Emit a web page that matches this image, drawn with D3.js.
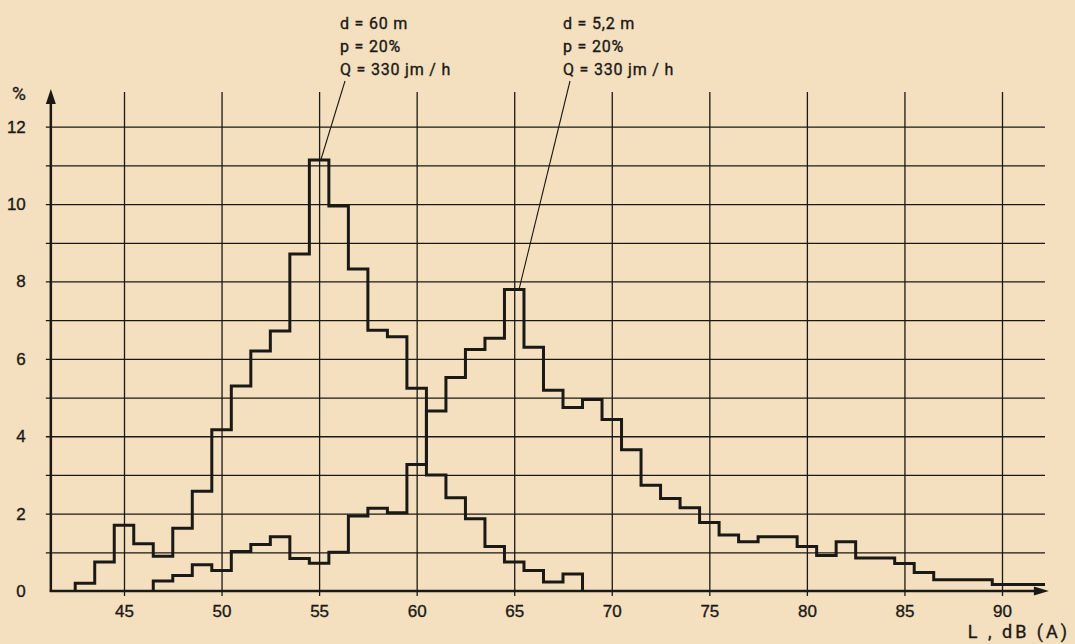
<!DOCTYPE html>
<html>
<head>
<meta charset="utf-8">
<script src="https://cdn.jsdelivr.net/npm/d3@7"></script>
<style>
  body { margin: 0; background: #f4e0bf; }
  svg { display: block; font-family: Roboto, "DejaVu Sans", sans-serif; }
  svg text { stroke: #1b1916; stroke-width: 0.35px; }
</style>
</head>
<body>
<svg id="chart" width="1075" height="644"></svg>
<script>
// noise level classes in dB(A), bin centres (1 dB wide), share in %
const levelsA = [43, 44, 45, 46, 47, 48, 49, 50, 51, 52, 53, 54, 55, 56, 57, 58, 59, 60, 61, 62, 63, 64, 65, 66, 67, 68];
const shareA = [0.2, 0.75, 1.7, 1.22, 0.9, 1.62, 2.58, 4.17, 5.3, 6.2, 6.72, 8.71, 11.14, 9.95, 8.32, 6.74, 6.57, 5.24, 3.0, 2.41, 1.87, 1.15, 0.75, 0.53, 0.23, 0.44];

const levelsB = [47, 48, 49, 50, 51, 52, 53, 54, 55, 56, 57, 58, 59, 60, 61, 62, 63, 64, 65, 66, 67, 68, 69, 70,
    71, 72, 73, 74, 75, 76, 77, 78, 79, 80, 81, 82, 83, 84, 85, 86, 87, 88, 89, 90, 91, 92];
const shareB = [0.26, 0.4, 0.68, 0.53, 1.02, 1.2, 1.4, 0.84, 0.72, 1.0, 1.94, 2.14, 2.02, 3.27, 4.65, 5.52, 6.24, 6.53, 7.79, 6.3,
    5.19, 4.74, 4.95, 4.43, 3.65, 2.73, 2.39, 2.15, 1.77, 1.45, 1.27, 1.4, 1.4, 1.15, 0.92, 1.27, 0.85, 0.85, 0.71, 0.48,
    0.29, 0.29, 0.29, 0.17, 0.17, 0.17];

const xTicks = [45, 50, 55, 60, 65, 70, 75, 80, 85, 90];
const yTicks = [0, 2, 4, 6, 8, 10, 12];
const yGrid = [1, 2, 3, 4, 5, 6, 7, 8, 9, 10, 11, 12];

const noteA = ["d = 60 m", "p = 20%", "Q = 330 jm / h"];
const noteB = ["d = 5,2 m", "p = 20%", "Q = 330 jm / h"];

const ink = "#1b1916";

const svg = d3.select("#chart");

const x = d3.scaleLinear().domain([45, 90]).range([124, 1002]);
const y = d3.scaleLinear().domain([0, 12]).range([591, 126.7]);

const axisLeftX = x(41.25);
const axisRightX = x(92.3);
const gridTop = 92;

// vertical grid
svg.append("g")
    .attr("transform", `translate(0,${y(0) + 5})`)
    .call(d3.axisBottom(x).tickValues(xTicks).tickSize(-(y(0) + 5 - gridTop)).tickFormat(""))
    .call(g => g.select(".domain").remove())
    .call(g => g.selectAll("line").attr("stroke", ink).attr("stroke-width", 1.3));

// horizontal grid
svg.append("g")
    .attr("transform", `translate(${axisLeftX - 5},0)`)
    .call(d3.axisLeft(y).tickValues(yGrid).tickSize(-(1045 - axisLeftX + 5)).tickFormat(""))
    .call(g => g.select(".domain").remove())
    .call(g => g.selectAll("line").attr("stroke", ink).attr("stroke-width", 1.3));

// tick labels
svg.append("g")
    .attr("transform", `translate(0,${y(0)})`)
    .call(d3.axisBottom(x).tickValues(xTicks).tickSize(0).tickPadding(14))
    .call(g => g.select(".domain").remove())
    .call(g => g.selectAll("text").attr("fill", ink).attr("font-family", null).style("font-size", "17px"));

svg.append("g")
    .attr("transform", `translate(${axisLeftX},0)`)
    .call(d3.axisLeft(y).tickValues(yTicks).tickSize(0).tickPadding(25))
    .call(g => g.select(".domain").remove())
    .call(g => g.selectAll("text").attr("fill", ink).attr("font-family", null).style("font-size", "17px"));

// axes with arrows
svg.append("line")
    .attr("x1", axisLeftX).attr("x2", axisLeftX)
    .attr("y1", y(0) + 1).attr("y2", gridTop + 6)
    .attr("stroke", ink).attr("stroke-width", 2.5);
svg.append("path")
    .attr("d", `M${axisLeftX},${gridTop - 3} L${axisLeftX - 5},${gridTop + 12} L${axisLeftX + 5},${gridTop + 12} Z`)
    .attr("fill", ink);

svg.append("line")
    .attr("x1", axisLeftX - 1).attr("x2", axisRightX - 6)
    .attr("y1", y(0)).attr("y2", y(0))
    .attr("stroke", ink).attr("stroke-width", 2.5);
svg.append("path")
    .attr("d", `M${axisRightX + 2},${y(0)} L${axisRightX - 13},${y(0) - 4.5} L${axisRightX - 13},${y(0) + 4.5} Z`)
    .attr("fill", ink);

svg.append("text")
    .attr("x", 12).attr("y", 100)
    .attr("fill", ink).style("font-size", "19px")
    .text("%");

svg.append("text")
    .attr("x", 1070).attr("y", 638)
    .attr("text-anchor", "end")
    .attr("fill", ink).style("font-size", "18px").style("letter-spacing", "3px")
    .text("L , dB (A)");

// histograms as step outlines
svg.append("clipPath").attr("id", "plot-clip")
    .append("rect").attr("x", 0).attr("y", 0).attr("width", axisRightX - 2).attr("height", 644);

function stepPoints(levels, shares) {
    const pts = [[levels[0] - 0.5, 0]];
    levels.forEach((l, i) => {
        pts.push([l - 0.5, shares[i]]);
        pts.push([l + 0.5, shares[i]]);
    });
    pts.push([levels[levels.length - 1] + 0.5, 0]);
    return pts;
}

const line = d3.line().x(d => x(d[0])).y(d => y(d[1]));

svg.append("g").attr("clip-path", "url(#plot-clip)")
    .selectAll("path")
    .data([stepPoints(levelsA, shareA), stepPoints(levelsB, shareB)])
    .join("path")
    .attr("d", line)
    .attr("fill", "none")
    .attr("stroke", ink)
    .attr("stroke-width", 3)
    .attr("stroke-linejoin", "miter");

// annotations with leader lines
const notes = [
    { lines: noteA, level: 55, share: shareA[levelsA.indexOf(55)], tx: 340, lx: 345, dx: 2 },
    { lines: noteB, level: 65, share: shareB[levelsB.indexOf(65)], tx: 563, lx: 570, dx: 5 }
];

const note = svg.selectAll("g.note")
    .data(notes)
    .join("g")
    .attr("class", "note");

note.append("text")
    .attr("fill", ink)
    .style("font-size", "16px")
    .style("letter-spacing", "0.8px")
    .selectAll("tspan")
    .data(d => d.lines.map(t => ({ t, tx: d.tx })))
    .join("tspan")
    .attr("x", d => d.tx)
    .attr("y", (d, i) => 29 + i * 23)
    .text(d => d.t);

note.append("line")
    .attr("x1", d => d.lx).attr("y1", 81)
    .attr("x2", d => x(d.level) + d.dx).attr("y2", d => y(d.share) - 1)
    .attr("stroke", ink).attr("stroke-width", 1.1);
</script>
</body>
</html>
